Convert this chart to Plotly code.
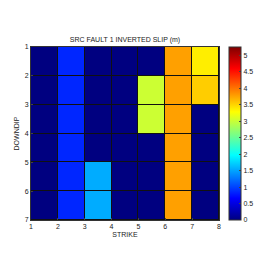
import plotly.graph_objects as go

strike_edges = [1, 2, 3, 4, 5, 6, 7, 8]
downdip_edges = [1, 2, 3, 4, 5, 6, 7]
slip = [
    [0, 0.85, 0, 0, 0, 3.77, 3.37],
    [0, 0.85, 0, 0, 3.02, 3.77, 3.54],
    [0, 0.85, 0, 0, 3.02, 3.77, 0],
    [0, 0.85, 0, 0, 0, 3.77, 0],
    [0, 0.85, 1.54, 0, 0, 3.77, 0],
    [0, 0.85, 1.54, 0, 0, 3.77, 0],
]
cbar_ticks = [0, 0.5, 1, 1.5, 2, 2.5, 3, 3.5, 4, 4.5, 5]

jet = [
    [0.0, "rgb(0,0,128)"],
    [0.125, "rgb(0,0,255)"],
    [0.375, "rgb(0,255,255)"],
    [0.625, "rgb(255,255,0)"],
    [0.875, "rgb(255,0,0)"],
    [1.0, "rgb(128,0,0)"],
]

font = dict(family="Liberation Sans, Arial, sans-serif", size=7, color="#222")

fig = go.Figure(go.Heatmap(
    x=strike_edges, y=downdip_edges, z=slip,
    colorscale=jet, zmin=0, zmax=5.25,
    xgap=1, ygap=1,
    colorbar=dict(
        x=1.053, xanchor="left", y=0.5, yanchor="middle",
        len=1, lenmode="fraction", thickness=12,
        outlinecolor="#333", outlinewidth=1,
        tickvals=cbar_ticks, ticks="inside", ticklen=2,
        tickfont=font, xpad=0, ypad=0,
    ),
))

fig.update_layout(
    width=274, height=274,
    margin=dict(l=31, r=55, t=47, b=54, autoexpand=False),
    paper_bgcolor="white", plot_bgcolor="#111",
    font=font,
    title=dict(text="SRC FAULT 1 INVERTED SLIP (m)", x=125/274, xanchor="center",
               y=1 - 40/274, yanchor="middle", font=dict(size=7, family=font["family"], color="#222")),
    xaxis=dict(range=[1, 8], tickvals=strike_edges, ticks="inside", ticklen=2,
               showgrid=False, zeroline=False, showline=True, linecolor="#333", mirror=True,
               automargin=False,
               title=dict(text="STRIKE", standoff=2, font=font), tickfont=font),
    yaxis=dict(range=[7, 1], tickvals=downdip_edges, ticks="inside", ticklen=2,
               showgrid=False, zeroline=False, showline=True, linecolor="#333", mirror=True,
               automargin=False,
               title=dict(text="DOWNDIP", standoff=4, font=font), tickfont=font),
)

fig.write_html("out.html", config={"displayModeBar": False},
               post_script="document.body.style.margin='0';document.body.style.padding='0';")
